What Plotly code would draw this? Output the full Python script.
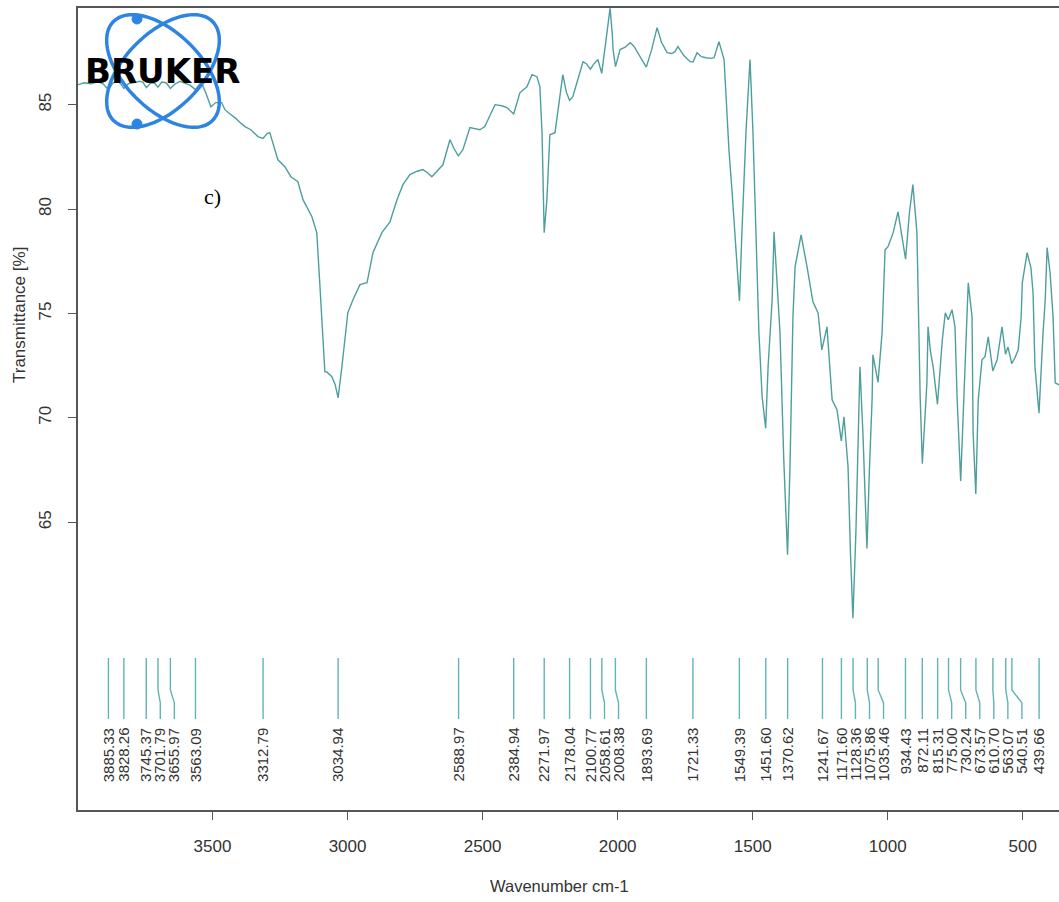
import numpy as np
import plotly.graph_objects as go

# IR spectrum (transmittance vs wavenumber)
wavenumber = [
    3998, 3975, 3950, 3925, 3905, 3886, 3868, 3850, 3840, 3828, 3812, 3790, 3770, 3758,
    3745, 3730, 3716, 3702, 3688, 3672, 3656, 3640, 3620, 3600, 3582, 3563, 3548, 3536,
    3525, 3506, 3488, 3466, 3454, 3435, 3417, 3398, 3380, 3358, 3332, 3313, 3298, 3288,
    3277, 3258, 3232, 3210, 3184, 3165, 3132, 3114, 3103, 3092, 3084, 3077, 3058, 3046,
    3035, 3021, 2999, 2980, 2954, 2928, 2906, 2873, 2843, 2817, 2795, 2769, 2745, 2721,
    2705, 2688, 2665, 2647, 2621, 2606, 2590, 2573, 2547, 2525, 2510, 2492, 2472, 2454,
    2430, 2410, 2385, 2362, 2336, 2317, 2299, 2288, 2280, 2272, 2262, 2251, 2232, 2203,
    2190, 2178, 2166, 2145, 2128, 2115, 2101, 2088, 2073, 2059, 2047, 2036, 2028, 2020,
    2017, 2008, 2000, 1991, 1972, 1954, 1940, 1928, 1910, 1894, 1875, 1854, 1838, 1817,
    1800, 1788, 1777, 1755, 1732, 1721, 1706, 1690, 1673, 1655, 1643, 1625, 1606, 1588,
    1577, 1562, 1549, 1540, 1525, 1510, 1499, 1488, 1477, 1465, 1452, 1443, 1428, 1421,
    1412, 1406, 1399, 1385, 1371, 1362, 1351, 1343, 1321, 1299, 1277, 1258, 1244, 1225,
    1206, 1188, 1172, 1162, 1147, 1138, 1129, 1118, 1110, 1103, 1092, 1077, 1068, 1058,
    1055, 1036, 1021, 1010, 999, 980, 962, 948, 934, 920, 907, 892, 888, 880,
    872, 863, 855, 851, 842, 832, 816, 798, 787, 776, 762, 751, 743, 730,
    721, 713, 702, 688, 684, 674, 665, 651, 640, 628, 611, 595, 577, 564,
    555, 541, 529, 517, 506, 502, 484, 470, 462, 455, 440, 425, 417, 410,
    399, 388, 380, 366,
]
transmittance = [
    85.96, 86.05, 86.00, 86.10, 86.00, 85.72, 86.05, 86.12, 86.00, 85.78, 86.00, 86.05, 86.12, 86.08,
    85.82, 86.02, 86.05, 85.84, 86.08, 86.05, 85.78, 85.98, 86.12, 86.02, 85.92, 85.72, 85.98, 85.90,
    85.57, 84.90, 85.10, 85.10, 84.76, 84.55, 84.38, 84.15, 83.95, 83.80, 83.47, 83.38, 83.62, 83.66,
    83.18, 82.36, 82.03, 81.55, 81.31, 80.45, 79.63, 78.87, 76.47, 74.07, 72.21, 72.20, 71.97, 71.60,
    70.96, 72.45, 75.03, 75.66, 76.38, 76.47, 77.91, 78.87, 79.39, 80.45, 81.17, 81.65, 81.80, 81.89,
    81.75, 81.55, 81.85, 82.12, 83.32, 82.90, 82.55, 82.84, 83.90, 83.85, 83.80, 83.95, 84.50, 85.00,
    84.95, 84.86, 84.55, 85.57, 85.86, 86.44, 86.34, 85.86, 83.66, 78.87, 80.45, 83.56, 83.66, 86.44,
    85.60, 85.20, 85.38, 86.30, 87.06, 86.95, 86.70, 86.95, 87.16, 86.50, 87.64, 88.60, 89.62, 88.40,
    87.64, 86.82, 87.20, 87.64, 87.75, 87.97, 87.80, 87.54, 87.20, 86.80, 87.60, 88.69, 88.00, 87.49,
    87.45, 87.54, 87.78, 87.35, 87.06, 87.04, 87.49, 87.30, 87.25, 87.22, 87.25, 88.02, 87.16, 82.84,
    80.93, 78.05, 75.60, 78.87, 83.66, 87.16, 83.66, 78.87, 74.08, 71.00, 69.50, 72.45, 75.66, 78.91,
    77.00, 75.66, 74.08, 68.00, 63.45, 67.65, 74.84, 77.24, 78.77, 77.24, 75.56, 75.03, 73.26, 74.36,
    70.87, 70.39, 68.90, 70.05, 67.65, 63.50, 60.40, 64.50, 68.47, 72.45, 69.28, 63.75, 67.50, 70.87,
    73.02, 71.70, 74.08, 78.05, 78.20, 78.87, 79.87, 78.80, 77.60, 79.80, 81.17, 78.87, 75.66, 71.00,
    67.80, 70.00, 71.68, 74.36, 73.20, 72.45, 70.65, 73.74, 75.03, 74.70, 75.18, 74.36, 70.87, 66.98,
    69.80, 72.45, 76.47, 74.84, 69.28, 66.35, 70.87, 72.78, 72.93, 73.88, 72.25, 72.78, 74.36, 73.05,
    73.40, 72.60, 72.88, 73.26, 74.84, 76.47, 77.91, 77.20, 75.99, 72.45, 70.22, 74.08, 75.66, 78.15,
    76.95, 74.84, 71.68, 71.58,
]

# picked band positions (cm-1)
peak_positions = [
    3885.33, 3828.26, 3745.37, 3701.79, 3655.97, 3563.09, 3312.79, 3034.94, 2588.97,
    2384.94, 2271.97, 2178.04, 2100.77, 2058.61, 2008.38, 1893.69, 1721.33, 1549.39,
    1451.60, 1370.62, 1241.67, 1171.60, 1128.36, 1075.86, 1035.46, 934.43, 872.11,
    815.31, 775.00, 730.24, 673.57, 610.70, 563.07, 540.51, 439.66,
]

x_ticks = [3500, 3000, 2500, 2000, 1500, 1000, 500]
y_ticks = [65, 70, 75, 80, 85]

# ---- layout geometry (pixels) ----
FIG_W, FIG_H = 1059, 902
M_L, M_R, M_T, M_B = 78, 0, 8, 92
X_RANGE = [3998, 366]
Y_RANGE = [51.22, 89.63]
PLOT_W = FIG_W - M_L - M_R
PLOT_H = FIG_H - M_T - M_B

SPEC_COLOR = "#4f9e9e"
MARK_COLOR = "#62b3b3"
TEXT_COLOR = "#333333"
FRAME_COLOR = "#555555"


def paper_x(px):
    return (px - M_L) / PLOT_W


def paper_y(py):
    return (FIG_H - M_B - py) / PLOT_H


# spread the band labels so that neighbouring labels keep a minimum gap
MIN_GAP = 52.0
label_positions = []
for p in peak_positions:
    if label_positions:
        label_positions.append(min(p, label_positions[-1] - MIN_GAP))
    else:
        label_positions.append(p)

# connector lines: straight drop, short slant to the label column, straight drop
Y_TOP, Y_KNEE1, Y_KNEE2, Y_BOT, Y_LABEL = 58.5, 56.97, 56.35, 55.58, 55.25
lx, ly = [], []
for p, q in zip(peak_positions, label_positions):
    lx += [p, p, q, q, None]
    ly += [Y_TOP, Y_KNEE1, Y_KNEE2, Y_BOT, None]

fig = go.Figure()
fig.add_trace(go.Scatter(
    x=wavenumber, y=transmittance, mode="lines",
    line=dict(color=SPEC_COLOR, width=1.4), hoverinfo="skip", showlegend=False,
))
fig.add_trace(go.Scatter(
    x=lx, y=ly, mode="lines",
    line=dict(color=MARK_COLOR, width=1.4), hoverinfo="skip", showlegend=False,
))

annotations = []
for p, q in zip(peak_positions, label_positions):
    annotations.append(dict(
        x=q, y=Y_LABEL, xref="x", yref="y", text=f"{p:.2f}", showarrow=False,
        textangle=-90, xanchor="center", yanchor="top",
        font=dict(family="Liberation Sans", size=15, color=TEXT_COLOR),
    ))

# axis titles
annotations.append(dict(
    x=paper_x(559), y=paper_y(886), xref="paper", yref="paper",
    text="Wavenumber cm-1", showarrow=False, xanchor="center", yanchor="middle",
    font=dict(family="Liberation Sans", size=16.5, color=TEXT_COLOR),
))
annotations.append(dict(
    x=paper_x(19), y=paper_y(315), xref="paper", yref="paper",
    text="Transmittance [%]", showarrow=False, textangle=-90,
    xanchor="center", yanchor="middle",
    font=dict(family="Liberation Sans", size=17, color=TEXT_COLOR),
))
# panel tag
annotations.append(dict(
    x=paper_x(212), y=paper_y(196), xref="paper", yref="paper",
    text="c)", showarrow=False, xanchor="center", yanchor="middle",
    font=dict(family="Liberation Serif", size=22, color="black"),
))

# ---- logo: two crossed orbits with two electrons, and the word mark ----
shapes = []
cx, cy, a, b = 163.0, 71.0, 70.0, 38.0
t = np.linspace(0, 2 * np.pi, 120)
for sign in (1, -1):
    ux, uy = 1 / np.sqrt(2), sign / np.sqrt(2)
    vx, vy = -sign / np.sqrt(2), 1 / np.sqrt(2)
    xs = cx + a * np.cos(t) * ux + b * np.sin(t) * vx
    ys = cy + a * np.cos(t) * uy + b * np.sin(t) * vy
    path = "M " + " L ".join(f"{paper_x(x):.5f},{paper_y(y):.5f}" for x, y in zip(xs, ys)) + " Z"
    shapes.append(dict(type="path", xref="paper", yref="paper", path=path,
                       line=dict(color="#2d84e3", width=3.5), layer="above"))
for ex, ey in [(137, 19), (137, 124)]:
    r = 5
    shapes.append(dict(type="circle", xref="paper", yref="paper",
                       x0=paper_x(ex - r), x1=paper_x(ex + r),
                       y0=paper_y(ey + r), y1=paper_y(ey - r),
                       fillcolor="#2d84e3", line=dict(color="#2d84e3", width=1), layer="above"))

annotations.append(dict(
    x=paper_x(162.5), y=paper_y(71), xref="paper", yref="paper",
    text="<b>BRUKER</b>", showarrow=False, xanchor="center", yanchor="middle",
    font=dict(family="DejaVu Sans", size=34, color="black"),
))

fig.update_layout(
    width=FIG_W, height=FIG_H,
    margin=dict(l=M_L, r=M_R, t=M_T, b=M_B, pad=0),
    paper_bgcolor="white", plot_bgcolor="white",
    showlegend=False,
    annotations=annotations,
    shapes=shapes,
    xaxis=dict(
        range=X_RANGE, tickvals=x_ticks, ticktext=[str(v) for v in x_ticks],
        showgrid=False, zeroline=False,
        showline=True, mirror=True, linecolor=FRAME_COLOR, linewidth=1.6,
        ticks="outside", ticklen=8, tickwidth=1.2, tickcolor=FRAME_COLOR,
        ticklabelstandoff=12,
        tickfont=dict(family="Liberation Sans", size=17, color=TEXT_COLOR),
    ),
    yaxis=dict(
        range=Y_RANGE, tickvals=y_ticks, ticktext=[str(v) for v in y_ticks],
        showgrid=False, zeroline=False,
        showline=True, mirror=False, linecolor=FRAME_COLOR, linewidth=1.6,
        ticks="outside", ticklen=8, tickwidth=1.2, tickcolor=FRAME_COLOR,
        tickangle=-90, ticklabelstandoff=10,
        tickfont=dict(family="Liberation Sans", size=17, color=TEXT_COLOR),
    ),
)

fig.write_html("out.html")
